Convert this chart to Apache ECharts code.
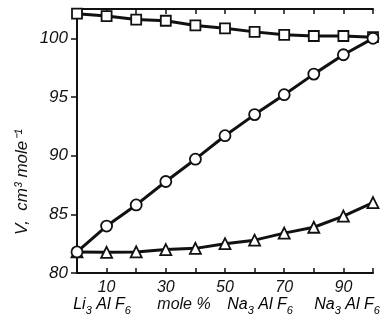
<!DOCTYPE html>
<html>
<head>
<meta charset="utf-8">
<script src="https://cdn.jsdelivr.net/npm/echarts@6/dist/echarts.min.js"></script>
<style>
  html, body { margin: 0; padding: 0; background: #fff; }
  #chart { width: 382px; height: 320px; }
</style>
</head>
<body>
<div id="chart"></div>
<script>
// mole % Na3AlF6
const molePct = [0, 10, 20, 30, 40, 50, 60, 70, 80, 90, 100];
// molar volumes, cm3/mole
const squareVals = [102.1, 101.9, 101.6, 101.5, 101.1, 100.85, 100.55, 100.3, 100.2, 100.2, 100.1];
const circleVals = [81.8, 84.0, 85.8, 87.8, 89.7, 91.7, 93.5, 95.2, 96.95, 98.6, 100.0];
const triangleVals = [81.8, 81.76, 81.8, 82.0, 82.1, 82.5, 82.8, 83.4, 83.9, 84.85, 86.0];
const xLabelTicks = [10, 30, 50, 70, 90];
const yLabelTicks = [80, 85, 90, 95, 100];

const font = 'Liberation Sans';
const pair = (vals) => molePct.map((x, i) => [x, vals[i]]);

const chart = echarts.init(document.getElementById('chart'));

const lineSeries = (vals, symbol, size) => ({
  type: 'line',
  data: pair(vals),
  symbol: symbol,
  symbolSize: size,
  showAllSymbol: true,
  lineStyle: { color: '#111', width: 3 },
  itemStyle: { color: '#fff', borderColor: '#111', borderWidth: 1.8 },
  emphasis: { disabled: true },
  animation: false,
  z: 3
});

// rich styles for formula text with subscripts
const rich = {
  a: { fontFamily: font, fontStyle: 'italic', fontSize: 16, color: '#111', verticalAlign: 'top', lineHeight: 16 },
  s: { fontFamily: font, fontStyle: 'italic', fontSize: 11, color: '#111', verticalAlign: 'top', lineHeight: 11, padding: [8, 0, 0, 0] }
};
const formula = (el, x) => ({
  type: 'text', x: x, y: 297,
  style: { text: '{a|' + el + '}{s|3}{a| Al F}{s|6}', rich: rich, align: 'center', verticalAlign: 'top' }
});
const plain = (txt, x, y, extra) => Object.assign({
  type: 'text', x: x, y: y,
  style: {
    text: txt, fill: '#111', fontFamily: font, fontStyle: 'italic', fontSize: 16,
    align: 'center', verticalAlign: 'middle'
  }
}, extra || {});

const option = {
  animation: false,
  grid: { left: 77, right: 9, top: 9, bottom: 47 },
  xAxis: [
    {
      type: 'value', min: 0, max: 100, interval: 10,
      axisLine: { lineStyle: { color: '#111', width: 2 } },
      axisTick: { inside: true, length: 5, lineStyle: { color: '#111', width: 1.5 } },
      axisLabel: {
        customValues: xLabelTicks,
        color: '#111', fontFamily: font, fontStyle: 'italic', fontSize: 16, margin: 7
      },
      splitLine: { show: false }
    },
    {
      type: 'value', position: 'top', min: 0, max: 100, interval: 10,
      axisLine: { lineStyle: { color: '#111', width: 2 } },
      axisTick: { inside: true, length: 5, lineStyle: { color: '#111', width: 1.5 } },
      axisLabel: { show: false },
      splitLine: { show: false }
    }
  ],
  yAxis: [
    {
      type: 'value', min: 80, max: 102.5, interval: 5,
      axisLine: { lineStyle: { color: '#111', width: 2 } },
      axisTick: { customValues: yLabelTicks, length: 6, lineStyle: { color: '#111', width: 1.5 } },
      axisLabel: {
        customValues: yLabelTicks,
        color: '#111', fontFamily: font, fontStyle: 'italic', fontSize: 17, margin: 9
      },
      splitLine: { show: false }
    },
    {
      type: 'value', position: 'right', min: 80, max: 102.5, interval: 5,
      axisLine: { lineStyle: { color: '#111', width: 2 } },
      axisTick: { customValues: yLabelTicks, inside: true, length: 6, lineStyle: { color: '#111', width: 1.5 } },
      axisLabel: { show: false },
      splitLine: { show: false }
    }
  ],
  series: [
    lineSeries(squareVals, 'rect', 10),
    lineSeries(triangleVals, 'triangle', 11),
    lineSeries(circleVals, 'circle', 11)
  ],
  graphic: [
    plain('V,  cm³ mole⁻¹', 22, 182, { rotation: Math.PI / 2 }),
    formula('Li', 102),
    plain('mole %', 184, 305),
    formula('Na', 260),
    formula('Na', 347)
  ]
};
option.graphic[0].style.fontSize = 17;

chart.setOption(option);
</script>
</body>
</html>
